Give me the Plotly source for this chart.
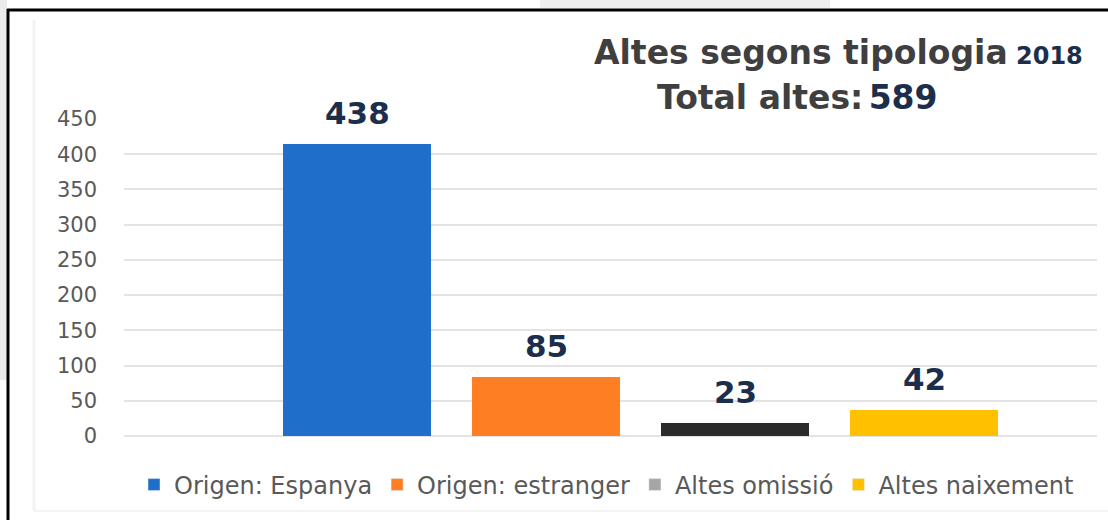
import plotly.graph_objects as go

# ---- data ----
categories = ["Origen: Espanya", "Origen: estranger", "Altes omissió", "Altes naixement"]
bar_heights = [415, 84, 19, 37]          # bar heights as drawn in the picture
value_labels = ["438", "85", "23", "42"]  # printed data labels
bar_colors = ["#1F6FC8", "#FD7E23", "#2B2B2B", "#FFC000"]
legend_colors = ["#1F6FC8", "#FD7E23", "#A6A6A6", "#FFC000"]
y_ticks = [0, 50, 100, 150, 200, 250, 300, 350, 400, 450]
title_main = "Altes segons tipologia"
title_year = "2018"
total_label = "Total altes:"
total_value = "589"

W, H = 1108, 520
L, R, T, B = 124, 11, 119, 84
PW, PH = W - L - R, H - T - B


def px_x(p):
    return (p - L) / PW


def px_y(p):
    return (H - B - p) / PH


fig = go.Figure()

fig.add_trace(go.Bar(
    x=categories, y=bar_heights, width=0.78,
    marker=dict(color=bar_colors, line=dict(width=0)),
    showlegend=False, hoverinfo="skip",
))

for name, col in zip(categories, legend_colors):
    fig.add_trace(go.Bar(x=[None], y=[None], name=name,
                         marker=dict(color=col), showlegend=True))

# data labels
for c, h, t in zip(categories, bar_heights, value_labels):
    fig.add_annotation(x=c, y=h, text=f"<b>{t}</b>", showarrow=False,
                       xref="x", yref="y", yanchor="middle", yshift=31,
                       font=dict(family="DejaVu Sans", size=31, color="#1B2E4B"))

# titles
fig.add_annotation(
    xref="paper", yref="paper", x=px_x(592), y=px_y(53), xanchor="left", yanchor="middle",
    showarrow=False,
    text=(f"<b>{title_main}</b><b><span style='font-size:24px;color:#1B2E4B'> {title_year}</span></b>"),
    font=dict(family="DejaVu Sans", size=33, color="#3F3F3F"))
fig.add_annotation(
    xref="paper", yref="paper", x=px_x(655), y=px_y(97), xanchor="left", yanchor="middle",
    showarrow=False,
    text=(f"<b>{total_label}</b><span style='font-size:17px'> </span>"
          f"<b><span style='color:#1B2E4B'>{total_value}</span></b>"),
    font=dict(family="DejaVu Sans", size=33, color="#3F3F3F"))

# frame / background decorations
shapes = [
    dict(type="rect", xref="paper", yref="paper", x0=px_x(0), x1=px_x(7), y0=px_y(380), y1=px_y(0),
         fillcolor="#EBEBEB", line=dict(width=0), layer="below"),
    dict(type="rect", xref="paper", yref="paper", x0=px_x(540), x1=px_x(830), y0=px_y(8), y1=px_y(0),
         fillcolor="#EEEEEE", line=dict(width=0), layer="below"),
    dict(type="line", xref="paper", yref="paper", x0=px_x(34), x1=px_x(34), y0=px_y(511), y1=px_y(20),
         line=dict(color="#F3F3F3", width=3), layer="below"),
    dict(type="line", xref="paper", yref="paper", x0=px_x(34), x1=px_x(1108), y0=px_y(511), y1=px_y(511),
         line=dict(color="#F3F3F3", width=2), layer="below"),
    dict(type="line", xref="paper", yref="paper", x0=px_x(8), x1=px_x(8), y0=px_y(530), y1=px_y(9),
         line=dict(color="#000000", width=3)),
    dict(type="line", xref="paper", yref="paper", x0=px_x(7), x1=px_x(1120), y0=px_y(10), y1=px_y(10),
         line=dict(color="#000000", width=3)),
]

fig.update_layout(
    width=W, height=H,
    margin=dict(l=L, r=R, t=T, b=B, pad=0),
    paper_bgcolor="white", plot_bgcolor="white",
    shapes=shapes,
    bargap=0,
    xaxis=dict(range=[-1.233, 3.915], showticklabels=False, showgrid=False,
               zeroline=False, showline=False, fixedrange=True),
    yaxis=dict(range=[0, 450], tickvals=y_ticks, showgrid=True, gridcolor="#E3E3E3",
               gridwidth=2, zeroline=True, zerolinecolor="#E3E3E3", zerolinewidth=2,
               showline=False, ticks="", ticklabelstandoff=26,
               tickfont=dict(family="DejaVu Sans", size=21, color="#595959")),
    legend=dict(orientation="h", x=px_x(148 - 14), xanchor="left", y=px_y(485), yanchor="middle",
                font=dict(family="DejaVu Sans", size=24, color="#595959"),
                bgcolor="rgba(0,0,0,0)", itemclick=False, itemdoubleclick=False),
    showlegend=True,
)

fig.write_html("out.html", config={"displayModeBar": False},
               post_script="document.body.style.margin='0';document.body.style.overflow='hidden';")
